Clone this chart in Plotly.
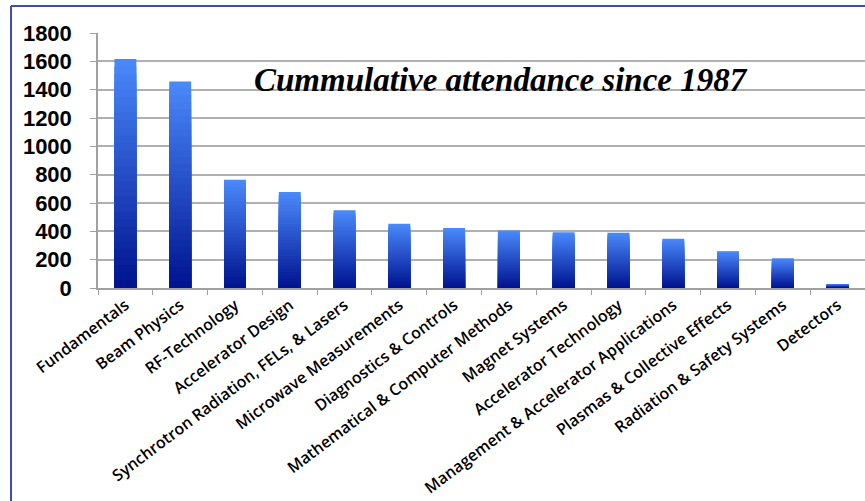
import plotly.graph_objects as go

categories = [
    "Fundamentals", "Beam Physics", "RF-Technology", "Accelerator Design",
    "Synchrotron Radiation, FELs, & Lasers", "Microwave Measurements",
    "Diagnostics & Controls", "Mathematical & Computer Methods",
    "Magnet Systems", "Accelerator Technology",
    "Management & Accelerator Applications", "Plasmas & Collective Effects",
    "Radiation & Safety Systems", "Detectors",
]
attendance = [1616, 1457, 765, 677, 548, 453, 423, 406, 394, 390, 347, 260, 210, 28]
y_ticks = [0, 200, 400, 600, 800, 1000, 1200, 1400, 1600, 1800]
title_text = "Cummulative attendance since 1987"

top_rgb = (74, 136, 250)
bottom_rgb = (0, 20, 145)
N = 30

fig = go.Figure()
for k in range(N):
    f = 1 - k / N
    t = k / (N - 1)
    c = tuple(round(top_rgb[i] + (bottom_rgb[i] - top_rgb[i]) * t) for i in range(3))
    fig.add_trace(go.Bar(
        x=categories, y=[v * f for v in attendance],
        marker=dict(color=f"rgb{c}", line=dict(width=0)),
        width=0.4, showlegend=False, hoverinfo="skip",
    ))

fig.update_layout(
    barmode="overlay",
    width=865, height=501,
    margin=dict(l=98, r=0, t=33, b=213),
    paper_bgcolor="white", plot_bgcolor="white",
    xaxis=dict(
        tickson="boundaries", ticks="outside", ticklen=5, tickcolor="#a0a0a0",
        showline=True, linecolor="#a0a0a0", linewidth=1.5,
        showgrid=False, tickangle=-37,
        tickfont=dict(family="Open Sans", size=16, color="#000000", weight=600),
    ),
    yaxis=dict(
        range=[0, 1800], tickvals=y_ticks,
        ticks="outside", ticklen=6, tickcolor="#a0a0a0",
        showline=True, linecolor="#a0a0a0", linewidth=1.5,
        showgrid=True, gridcolor="#b0b0b0", gridwidth=1.5,
        tickfont=dict(family="Liberation Sans", size=22, color="#000000", weight="bold"),
        ticklabelstandoff=14,
    ),
    annotations=[dict(
        text=f"<b><i>{title_text}</i></b>", xref="paper", yref="paper",
        x=0.525, y=0.816, xanchor="center", yanchor="middle", showarrow=False,
        font=dict(family="Liberation Serif", size=33, color="#000000"),
    )],
    shapes=[
        dict(type="line", xref="paper", yref="paper", x0=-0.1134, x1=-0.1134,
             y0=1.106, y1=-0.84, line=dict(color="#3f4fa8", width=2)),
        dict(type="line", xref="paper", yref="paper", x0=-0.1134, x1=1.0,
             y0=1.106, y1=1.106, line=dict(color="#3f4fa8", width=2)),
    ],
)

fig.write_html("out.html", config={"displayModeBar": False},
               post_script="document.body.style.margin='0';")
